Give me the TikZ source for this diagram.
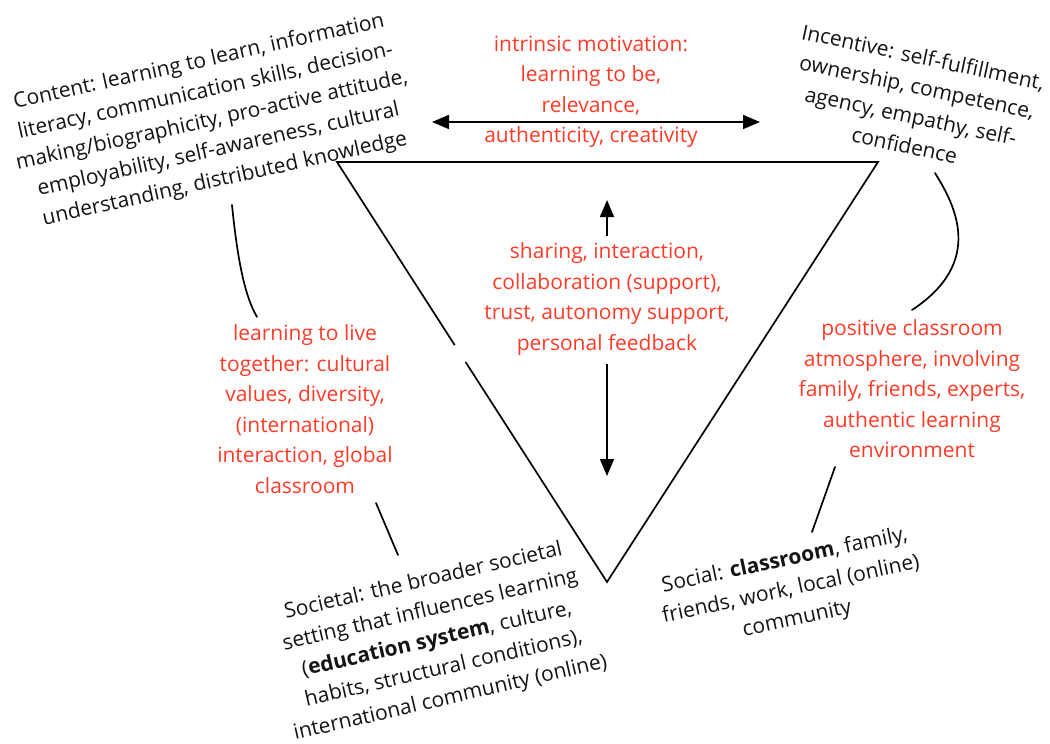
\documentclass[tikz,border=0pt]{standalone}
\usepackage{fontspec}
\setmainfont{Open Sans}
\usetikzlibrary{arrows.meta,calc}
\definecolor{redtxt}{RGB}{255,59,40}
\definecolor{blacktxt}{RGB}{20,20,20}
\begin{document}
\begin{tikzpicture}[x=1pt,y=-1pt,
  redlbl/.style={text=redtxt, align=center, font=\fontsize{21}{30.5}\selectfont, inner sep=0pt},
  blklbl/.style={text=blacktxt, align=center, font=\fontsize{21}{30}\selectfont, inner sep=0pt},
  edgeline/.style={line width=1.7pt, line join=miter},
  conn/.style={line width=1.7pt, line cap=round},
  dblarrow/.style={line width=1.7pt, {Triangle[length=17pt,width=14pt]}-{Triangle[length=17pt,width=14pt]}},
  sglarrow/.style={line width=1.7pt, -{Triangle[length=17pt,width=14pt]}}]
\useasboundingbox (0,0) rectangle (1050,744);

% triangle corners
\coordinate (tl) at (337,162);
\coordinate (tr) at (878,162);
\coordinate (tb) at (607,582);
\coordinate (gapa) at ($(tl)!0.436!(tb)$);
\coordinate (gapb) at ($(tl)!0.476!(tb)$);
\draw[edgeline] (gapa) -- (tl) -- (tr) -- (tb) -- (gapb);

% red labels
\node[redlbl] (top) at (591,92) {intrinsic motivation:\\learning to be,\\relevance,\\authenticity, creativity};
\node[redlbl] (mid) at (607,299) {sharing, interaction,\\collaboration (support),\\trust, autonomy support,\\personal feedback};
\node[redlbl] (left) at (305,409) {learning to live\\together: cultural\\values, diversity,\\(international)\\interaction, global\\classroom};
\node[redlbl] (right) at (912,389) {positive classroom\\atmosphere, involving\\family, friends, experts,\\authentic learning\\environment};

% black rotated labels
\node[blklbl, rotate=12.5] (content) at (212,121) {Content: learning to learn, information\\literacy, communication skills, decision-\\making/biographicity, pro-active attitude,\\employability, self-awareness, cultural\\understanding, distributed knowledge};
\node[blklbl, rotate=-12] (incentive) at (914,101) {Incentive: self-fulfillment,\\ownership, competence,\\agency, empathy, self-\\confidence};
\node[blklbl, rotate=13] (societal) at (437,640) {Societal: the broader societal\\setting that influences learning\\(\textbf{education system}, culture,\\habits, structural conditions),\\international community (online)};
\node[blklbl, rotate=12] (social) at (791,590) {Social: \textbf{classroom}, family,\\friends, work, local (online)\\community};

% arrows
\coordinate (hl) at (432,122);
\coordinate (hr) at (760,122);
\draw[dblarrow] (hl) -- (hr);
\coordinate (upa) at (607,236);
\coordinate (upb) at (607,200);
\draw[sglarrow] (upa) -- (upb);
\coordinate (dna) at (607,364);
\coordinate (dnb) at (607,476);
\draw[sglarrow] (dna) -- (dnb);

% connectors
\coordinate (c1a) at (232,205);
\coordinate (c1b) at (257,317);
\draw[conn] (c1a) .. controls (237,255) and (244,295) .. (c1b);
\coordinate (c2a) at (376,503);
\coordinate (c2b) at (398,555);
\draw[conn] (c2a) -- (c2b);
\coordinate (c3a) at (935,173);
\coordinate (c3b) at (912,310);
\draw[conn] (c3a) .. controls (955,205) and (985,262) .. (c3b);
\coordinate (c4a) at (835,467);
\coordinate (c4b) at (812,532);
\draw[conn] (c4a) -- (c4b);
\end{tikzpicture}
\end{document}
